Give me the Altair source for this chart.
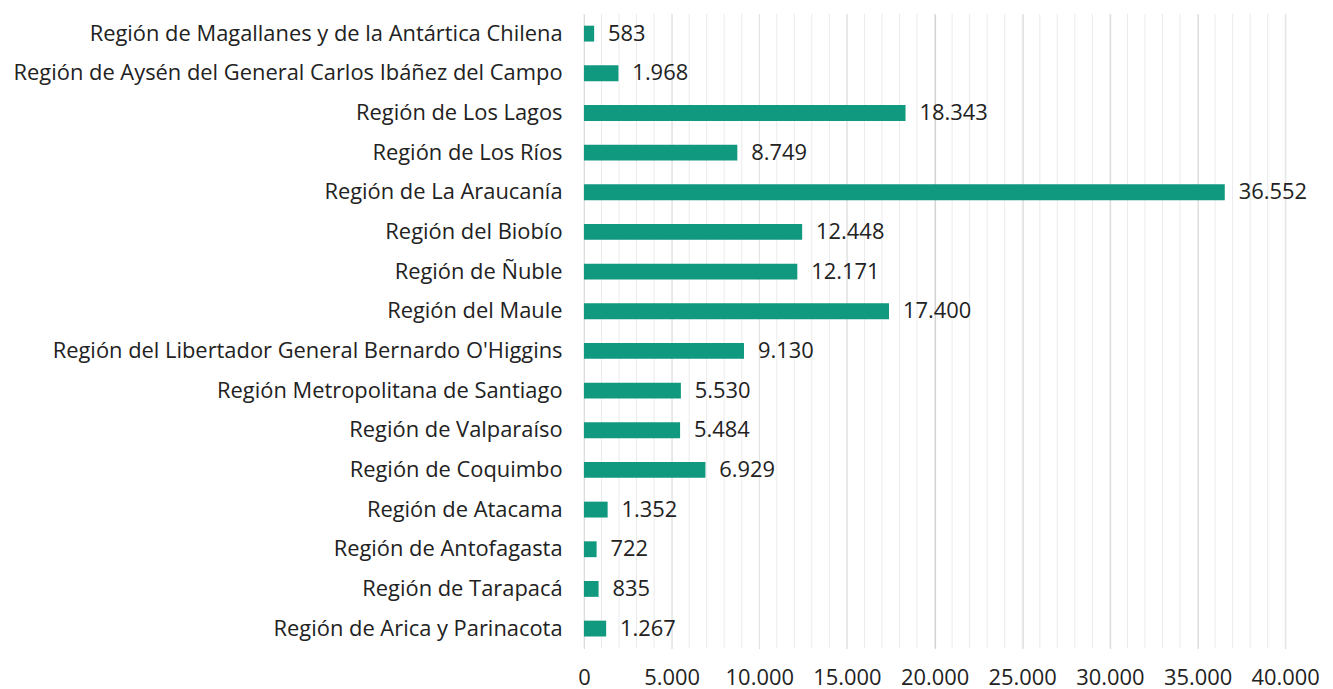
import altair as alt
import pandas as pd

regions = [
    "Región de Magallanes y de la Antártica Chilena",
    "Región de Aysén del General Carlos Ibáñez del Campo",
    "Región de Los Lagos",
    "Región de Los Ríos",
    "Región de La Araucanía",
    "Región del Biobío",
    "Región de Ñuble",
    "Región del Maule",
    "Región del Libertador General Bernardo O'Higgins",
    "Región Metropolitana de Santiago",
    "Región de Valparaíso",
    "Región de Coquimbo",
    "Región de Atacama",
    "Región de Antofagasta",
    "Región de Tarapacá",
    "Región de Arica y Parinacota",
]
values = [583, 1968, 18343, 8749, 36552, 12448, 12171, 17400, 9130, 5530, 5484, 6929, 1352, 722, 835, 1267]
major_ticks = list(range(0, 40001, 5000))
minor_ticks = list(range(0, 40001, 1000))

df = pd.DataFrame({"region": regions, "value": values})
df["label"] = df["value"].map(lambda v: f"{v:,}".replace(",", "."))
grid_df = pd.DataFrame({"g": minor_ticks})

FONT = "Open Sans"
FS = 22
BAR = "#10997f"
TXT = "#222222"

x_scale = alt.Scale(domain=[0, 40000], nice=False)
x_axis = alt.Axis(
    title=None, values=major_ticks, grid=True, gridColor="#cfcfcf", gridWidth=1,
    domain=False, ticks=False, labelPadding=19, labelFontSize=FS,
    labelColor=TXT, labelFont=FONT, labelOverlap=False, labelFlush=False,
    labelExpr="replace(format(datum.value, ','), ',', '.')",
)
y_enc = alt.Y(
    "region:N",
    sort=regions,
    scale=alt.Scale(paddingInner=0.6, paddingOuter=0.3),
    axis=alt.Axis(title=None, domain=False, ticks=False, labelPadding=22,
                  labelFontSize=FS, labelColor=TXT, labelFont=FONT, labelLimit=700),
)

minor = alt.Chart(grid_df).mark_rule(color="#ebebeb", strokeWidth=1).encode(
    x=alt.X("g:Q", scale=x_scale, axis=x_axis)
)

bars = alt.Chart(df).mark_bar(color=BAR).encode(
    x=alt.X("value:Q", scale=x_scale, axis=x_axis),
    y=y_enc,
)

text = alt.Chart(df).mark_text(
    align="left", baseline="middle", dx=14, fontSize=FS, font=FONT, color=TXT
).encode(
    x=alt.X("value:Q", scale=x_scale, axis=x_axis),
    y=alt.Y("region:N", sort=regions),
    text="label:N",
)

chart = alt.layer(minor, bars, text).properties(
    width=705,
    height=638,
    background="white",
    autosize=alt.AutoSizeParams(type="none"),
    padding={"left": 579, "top": 4, "right": 40, "bottom": 40},
).configure_view(strokeWidth=0, stroke=None)

chart.save("out.html", embed_options={"renderer": "svg", "actions": False})
